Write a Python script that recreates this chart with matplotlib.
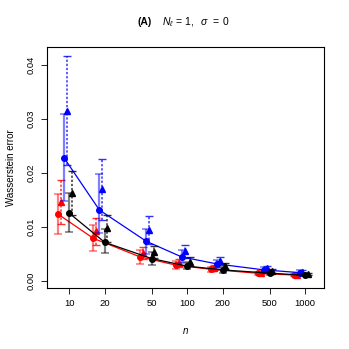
import matplotlib
matplotlib.use('Agg')
import matplotlib.pyplot as plt
import numpy as np

plt.rcParams['font.family'] = ['Liberation Sans', 'DejaVu Sans']
plt.rcParams['mathtext.fontset'] = 'custom'
plt.rcParams['mathtext.rm'] = 'Liberation Sans'
plt.rcParams['mathtext.it'] = 'Liberation Sans:italic'
plt.rcParams['mathtext.bf'] = 'Liberation Sans:bold'

n = [10, 20, 50, 100, 200, 500, 1000]

# red
red_circ = [0.01235, 0.00785, 0.0044, 0.0029, 0.0021, 0.00137, 0.00105]
red_circ_lo = [0.0086, 0.0055, 0.0031, 0.0022, 0.0016, 0.0011, 0.0008]
red_circ_hi = [0.0161, 0.0103, 0.0056, 0.0036, 0.0026, 0.0016, 0.0013]
red_tri = [0.0145, 0.0092, 0.0051, 0.0033, 0.0024, 0.0015, 0.0011]
red_tri_lo = [0.0105, 0.0066, 0.0040, 0.0026, 0.0019, 0.0012, 0.0009]
red_tri_hi = [0.0186, 0.0117, 0.0062, 0.0040, 0.0029, 0.0018, 0.0013]

# blue
blue_circ = [0.0228, 0.0131, 0.0073, 0.0044, 0.0031, 0.0020, 0.0015]
blue_circ_lo = [0.0148, 0.0088, 0.0050, 0.0032, 0.0023, 0.0015, 0.0011]
blue_circ_hi = [0.0309, 0.0198, 0.0095, 0.0056, 0.0039, 0.0025, 0.0019]
blue_tri = [0.0315, 0.0169, 0.0094, 0.0055, 0.0037, 0.0023, 0.0017]
blue_tri_lo = [0.0215, 0.0112, 0.0068, 0.0042, 0.0029, 0.0018, 0.0013]
blue_tri_hi = [0.0416, 0.0225, 0.0120, 0.0067, 0.0044, 0.0027, 0.0020]

# black
black_circ = [0.0125, 0.0071, 0.0041, 0.0027, 0.0020, 0.0014, 0.0010]
black_circ_lo = [0.0090, 0.0051, 0.0030, 0.0021, 0.0015, 0.0011, 0.0008]
black_circ_hi = [0.0163, 0.0095, 0.0053, 0.0034, 0.0025, 0.0017, 0.0012]
black_tri = [0.0162, 0.0097, 0.0054, 0.0034, 0.0027, 0.0018, 0.0012]
black_tri_lo = [0.0122, 0.0072, 0.0042, 0.0027, 0.0022, 0.0014, 0.0010]
black_tri_hi = [0.0204, 0.0122, 0.0065, 0.0043, 0.0033, 0.0021, 0.0014]

series = [
    ('red', 0.80, 0.85, red_circ, red_circ_lo, red_circ_hi, red_tri, red_tri_lo, red_tri_hi),
    ('blue', 0.90, 0.95, blue_circ, blue_circ_lo, blue_circ_hi, blue_tri, blue_tri_lo, blue_tri_hi),
    ('black', 1.00, 1.05, black_circ, black_circ_lo, black_circ_hi, black_tri, black_tri_lo, black_tri_hi),
]

fig = plt.figure(figsize=(3.49, 3.49), dpi=100)
ax = fig.add_axes([47/349, 61/349, 277/349, 241/349])

for col, fc, ft, c, clo, chi, t, tlo, thi in series:
    x_c = np.array(n) * fc
    x_t = np.array(n) * ft
    c = np.array(c); t = np.array(t)
    ax.errorbar(x_c, c, yerr=[c - np.array(clo), np.array(chi) - c], fmt='none',
                ecolor=col, alpha=0.5, elinewidth=1.6, capsize=3, capthick=1.2)
    eb = ax.errorbar(x_t, t, yerr=[t - np.array(tlo), np.array(thi) - t], fmt='none',
                     ecolor=col, alpha=0.8, elinewidth=1.1, capsize=3, capthick=1.0)
    for lc in eb[2]:
        lc.set_linestyle((0, (1.5, 1.2)))
    ax.plot(x_c, c, '-', color=col, lw=0.9, marker='o', ms=4)
    ax.plot(x_t, t, color=col, marker='^', ms=4, linestyle='none')

ax.set_xscale('log')
ax.set_xlim(6.47, 1449)
ax.set_ylim(-0.00135, 0.04328)
ax.set_xticks(n)
ax.set_xticklabels([str(v) for v in n])
ax.minorticks_off()
ax.set_yticks([0.0, 0.01, 0.02, 0.03, 0.04])
ax.set_yticklabels(['0.00', '0.01', '0.02', '0.03', '0.04'], rotation=90, va='center')
ax.tick_params(axis='both', labelsize=6.8, length=4, width=0.6, direction='out', pad=4)
for s in ax.spines.values():
    s.set_linewidth(0.8)

ax.set_xlabel('$n$', fontsize=7, labelpad=13)
ax.set_ylabel('Wasserstein error', fontsize=7, labelpad=8)

fig.text(138/349, 1 - 22/349, '(A)', fontsize=7.5, fontweight='bold', va='center', ha='left')
fig.text(162/349, 1 - 22/349, r'$N_\ell\, =\, 1,\ \ \sigma\ \, =\, 0$', fontsize=7.5, va='center', ha='left')

fig.savefig('out.png', dpi=100)
